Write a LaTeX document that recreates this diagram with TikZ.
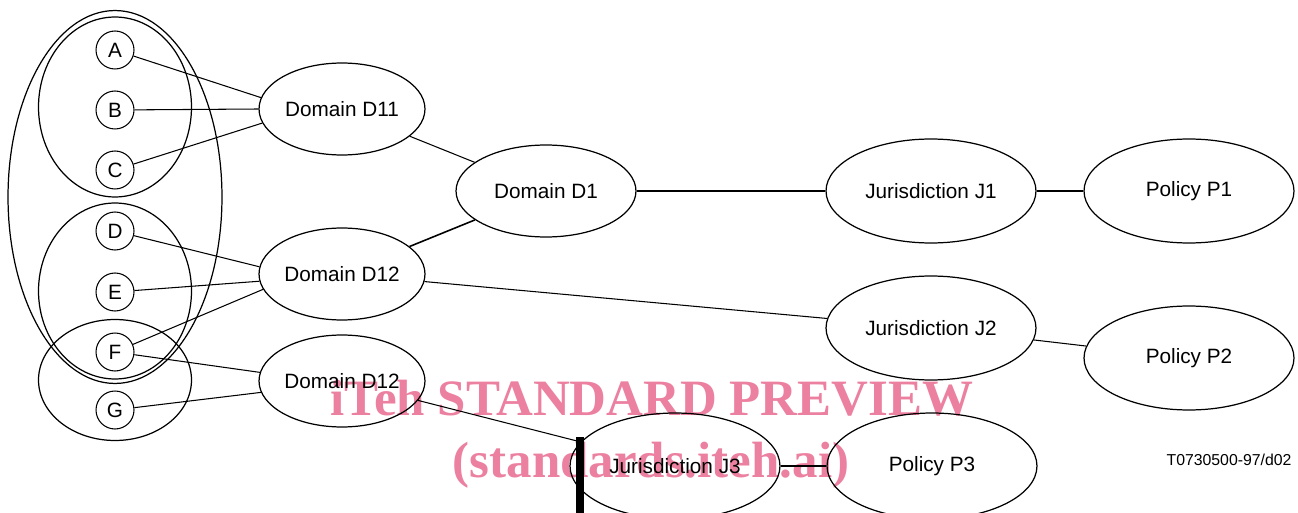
\documentclass[tikz,border=0pt]{standalone}
\usepackage{fontspec}
\setmainfont{Liberation Sans}
\newfontfamily\markfont{Liberation Serif}
\usetikzlibrary{shapes.geometric}
\definecolor{previewpink}{RGB}{236,128,160}

\begin{document}
\begin{tikzpicture}[x=0.02cm, y=-0.02cm,
        every node/.style={align=center, font=\fontsize{11.8}{13}\selectfont},
        member/.style={draw, circle, line width=0.6pt, minimum size=0.76cm, inner sep=0pt},
        group/.style={draw, ellipse, line width=0.7pt, inner sep=0pt},
        dombox/.style={draw, ellipse, line width=0.7pt, minimum width=3.32cm, minimum height=1.84cm, inner sep=0pt},
        widebox/.style={draw, ellipse, line width=0.7pt, minimum width=4.2cm, minimum height=2.08cm, inner sep=0pt},
        link/.style={line width=0.6pt}]

        \useasboundingbox (0,0) rectangle (1298,513);

        % Groups on the left
        \node[group, minimum width=4.28cm, minimum height=7.46cm] (grpAll) at (115,197) {};
        \node[group, minimum width=3.06cm, minimum height=3.6cm] (grpABC) at (115,107) {};
        \node[group, minimum width=3.06cm, minimum height=3.52cm] (grpDEF) at (115,291) {};
        \node[group, minimum width=3.06cm, minimum height=2.42cm] (grpFG) at (115,380) {};

        % Members
        \node[member] (mA) at (115,50) {A};
        \node[member] (mB) at (115,110) {B};
        \node[member] (mC) at (115,170) {C};
        \node[member] (mD) at (115,231) {D};
        \node[member] (mE) at (115,292) {E};
        \node[member] (mF) at (115,352) {F};
        \node[member] (mG) at (115,410) {G};

        % Domains
        \node[dombox] (domD11) at (342,109) {Domain D11};
        \node[dombox, minimum width=3.6cm] (domD1) at (546,191) {Domain D1};
        \node[dombox] (domD12) at (342,274) {Domain D12};
        \node[dombox] (domD12b) at (342,381) {Domain D12};

        % Jurisdictions and policies
        \node[widebox] (jurJ1) at (931,191) {Jurisdiction J1};
        \node[widebox] (polP1) at (1189,191) {Policy P1};
        \node[widebox] (jurJ2) at (931,328) {Jurisdiction J2};
        \node[widebox] (polP2) at (1189,358) {Policy P2};
        \node[widebox, minimum height=2.12cm] (jurJ3) at (675,466) {Jurisdiction J3};
        \node[widebox, minimum height=2.12cm] (polP3) at (932,466) {Policy P3};

        \node[font=\fontsize{9}{11}\selectfont] (figId) at (1229,460) {T0730500-97/d02};

        % Links
        \draw[link] (mA) -- (domD11.172);
        \draw[link] (mB) -- (domD11.west);
        \draw[link] (mC) -- (domD11.190);
        \draw[link] (mD) -- (domD12.175);
        \draw[link] (mE) -- (domD12.185);
        \draw[link] (mF) -- (domD12.191);
        \draw[link] (mF) -- (domD12b.174);
        \draw[link] (mG) -- (domD12b.188);
        \draw[link] (domD11) -- (domD1);
        \draw[link, line width=0.9pt] (domD12) -- (domD1);
        \draw[link] (domD1) -- (jurJ1);
        \draw[link] (jurJ1) -- (polP1);
        \draw[link] (domD12) -- (jurJ2);
        \draw[link] (jurJ2) -- (polP2);
        \draw[link] (domD12b) -- (jurJ3);
        \draw[link] (jurJ3) -- (polP3);

        % Bar at the bottom
        \coordinate (barTop) at (580,437);
        \coordinate (barEnd) at (580,513);
        \draw[line width=4pt] (barTop) -- (barEnd);

        % Preview stamp
        \begin{scope}[blend mode=multiply]
        \node[anchor=base, text=previewpink,
              font=\markfont\bfseries\fontsize{29}{34}\selectfont] (stampTop) at (652,415) {iTeh STANDARD PREVIEW};
        \node[anchor=base, text=previewpink,
              font=\markfont\bfseries\fontsize{29}{34}\selectfont] (stampEnd) at (651,477) {(standards.iteh.ai)};
        \end{scope}

    \end{tikzpicture}
\end{document}
